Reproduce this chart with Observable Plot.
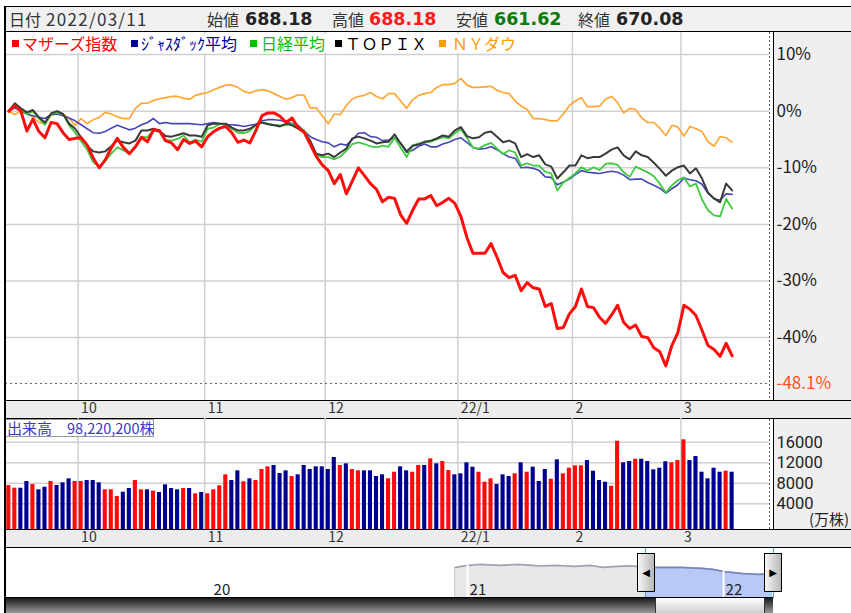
<!DOCTYPE html>
<html lang="ja"><head><meta charset="utf-8">
<script src="https://cdn.jsdelivr.net/npm/d3@7"></script>
<script src="https://cdn.jsdelivr.net/npm/@observablehq/plot@0.6"></script>
<style>
html,body{margin:0;padding:0;background:#fff;}
#c{position:relative;width:851px;height:613px;overflow:hidden;font-family:"Noto Sans CJK JP","Noto Sans",sans-serif;color:#222;}
#c div{position:absolute;box-sizing:border-box;}
#c svg{position:absolute;left:0;}
</style></head><body><div id="c"></div>
<script>
// ---------- data ----------
const headerDate = "2022/03/11";
const ohlcLabels = ["始値", "高値", "安値", "終値"];
const ohlcValues = ["688.18", "688.18", "661.62", "670.08"];
const legendNames = ["マザーズ指数", "ｼﾞｬｽﾀﾞｯｸ平均", "日経平均", "ＴＯＰＩＸ", "ＮＹダウ"];
const volumeTitle = "出来高";
const volumeTotal = "98,220,200株";
const volumeUnit = "(万株)";

const monthLabels = ["10", "11", "12", "22/1", "2", "3"];
const monthStart = [12, 33, 53, 75, 94, 112]; // trading-day index of first day in month
const pctTicks = [10, 0, -10, -20, -30, -40];
const lowPct = -48.1;
const volTicks = [16000, 12000, 8000, 4000];

const mothers = [0, 1.0, 0, -3.5, -1.4, -3.6, -4.7, -2.0, -2.2, -3.8,
  -5.0, -4.8, -4.7, -6.0, -8.3, -10.0, -8.6, -6.5, -4.8, -6.4,
  -7.5, -6.3, -4.6, -5.4, -3.3, -3.4, -5.2, -5.6, -6.8, -5.0,
  -5.7, -5.3, -6.3, -4.5, -3.6, -3.0, -2.7, -3.8, -5.5, -5.1,
  -5.6, -3.4, -0.8, -0.3, -0.3, -0.9, -2.0, -1.2, -2.9, -3.7,
  -5.8, -8.0, -9.5, -10.5, -12.8, -11.2, -14.6, -12.3, -10.0, -11.4,
  -12.8, -13.8, -16.0, -15.2, -15.4, -18.3, -19.8, -17.5, -15.5, -15.5,
  -14.9, -16.7, -16.1, -15.4, -16.3, -18.6, -22.3, -25.1, -25.1, -25.1,
  -23.4, -25.8, -28.5, -29.4, -29.0, -31.7, -30.3, -31.2, -31.4, -34.5,
  -34.0, -38.4, -38.2, -35.8, -34.5, -31.4, -34.5, -34.7, -36.4, -37.5,
  -36.0, -34.3, -37.3, -38.4, -37.8, -39.8, -40.0, -41.8, -42.5, -45.0,
  -41.4, -39.1, -34.3, -35.0, -36.1, -38.7, -41.4, -42.1, -43.3, -41.0,
  -43.2];
const jasdaq = [0, 0.6, 0, -0.5, -0.8, -1.1, -1.3, -0.6, -0.5, -0.8,
  -1.2, -1.7, -2.4, -3.1, -3.8, -3.9, -3.6, -3.0, -2.5, -2.9,
  -3.3, -3.0, -2.4, -2.0, -1.3, -2.2, -2.0, -2.2, -2.2, -2.2,
  -2.2, -2.3, -2.4, -2.2, -2.0, -2.2, -2.4, -2.4, -2.5, -2.7,
  -2.5, -2.3, -1.7, -1.5, -1.5, -1.6, -1.9, -2.2, -2.5, -3.5,
  -4.5, -5.0, -5.4, -5.6, -6.3, -5.8, -6.0, -5.0, -3.9, -3.8,
  -4.5, -4.6, -5.2, -5.1, -4.7, -5.6, -7.3, -6.9, -6.2, -5.8,
  -6.3, -6.3, -5.8, -5.5, -5.0, -4.7, -5.5, -6.4, -6.7, -6.6,
  -6.3, -6.8, -7.5, -8.1, -8.3, -10.0, -9.9, -10.1, -10.5, -11.6,
  -11.7, -13.0, -12.5, -12.0, -11.2, -10.5, -10.8, -10.9, -11.0, -10.8,
  -10.6, -10.8, -11.3, -12.1, -12.0, -12.0, -12.6, -13.1, -13.6, -14.5,
  -13.7, -13.0, -11.8, -12.1, -12.3, -12.9, -14.5, -15.5, -15.7, -14.6,
  -14.7];
const nikkei = [0, 1.2, 0.3, -0.5, 0, -1.3, -2.4, -0.5, -0.2, -0.5,
  -2.5, -3.8, -5.3, -6.8, -9.0, -9.8, -8.8, -7.5, -6.4, -6.9,
  -7.5, -6.4, -4.6, -4.6, -3.4, -3.7, -5.1, -5.2, -4.9, -4.3,
  -5.5, -5.0, -5.4, -3.1, -2.9, -2.2, -2.5, -3.1, -3.8, -3.9,
  -3.5, -2.4, -2.0, -2.2, -2.4, -2.5, -2.5, -2.2, -2.9, -3.4,
  -5.5, -7.8, -8.1, -8.1, -8.5, -8.0, -7.0, -5.8, -5.5, -5.8,
  -6.2, -6.4, -6.1, -6.3, -4.7, -6.4, -8.1, -6.1, -5.7, -5.5,
  -5.4, -5.0, -4.6, -4.8, -3.9, -3.2, -4.7, -6.4, -6.6, -6.0,
  -5.6, -6.6, -7.6, -6.9, -7.3, -9.6, -9.2, -9.6, -9.6, -10.7,
  -11.0, -14.0, -12.6, -11.8, -11.0, -9.9, -10.5, -9.9, -10.4, -9.3,
  -9.2, -9.5, -10.8, -11.6, -9.8, -10.3, -10.8, -11.5, -12.8, -14.4,
  -13.1, -12.2, -11.7, -13.3, -12.8, -15.6, -17.5, -18.4, -18.6, -15.5,
  -17.2];
const topix = [0, 1.4, 0.5, -0.2, 0.2, -1.1, -2.0, -0.4, 0, -0.5,
  -2.2, -3.1, -4.6, -6.1, -7.1, -7.3, -7.1, -6.2, -5.2, -5.5,
  -5.7, -5.2, -3.4, -3.4, -3.1, -3.5, -4.4, -4.5, -4.2, -3.9,
  -4.3, -4.3, -4.5, -2.5, -2.2, -2.2, -2.2, -2.9, -3.4, -3.4,
  -3.1, -2.4, -2.0, -2.3, -2.5, -2.7, -2.2, -2.5, -3.1, -3.8,
  -5.2, -7.5, -7.8, -7.5, -8.1, -7.3, -6.6, -4.8, -4.5, -4.8,
  -5.2, -5.7, -5.5, -5.4, -4.1, -5.7, -7.1, -6.1, -5.9, -5.4,
  -5.2, -4.8, -4.3, -4.5, -3.4, -2.8, -4.4, -4.8, -4.6, -3.8,
  -3.6, -4.5, -5.5, -5.2, -5.7, -8.1, -7.6, -8.1, -7.8, -9.4,
  -9.8, -11.9, -10.8, -9.6, -9.6, -7.8, -8.3, -8.1, -8.1, -7.5,
  -6.8, -6.4, -7.8, -8.5, -7.1, -7.8, -8.1, -9.1, -10.2, -11.4,
  -10.5, -9.9, -9.6, -11.0, -10.1, -11.9, -14.4, -15.4, -16.1, -12.8,
  -14.0];
const nydow = [0, -0.6, 0, -0.5, -1.0, -2.0, -2.2, -0.8, -0.2, -0.5,
  -1.3, -2.5, -1.3, -2.2, -1.5, -1.1, -0.2, -0.5, -1.0, -1.3,
  -1.3, 0.5, 1.4, 1.4, 1.9, 2.2, 2.4, 2.6, 2.6, 2.3,
  2.1, 2.8, 3.1, 3.3, 3.8, 4.2, 4.6, 4.6, 4.2, 3.5,
  3.2, 3.6, 3.8, 3.6, 3.1, 2.6, 2.1, 2.4, 2.9, 2.8,
  0.6, 0.6, -0.8, -2.2, -0.5, -0.6, 1.0, 2.2, 2.6, 2.8,
  3.3, 2.6, 2.2, 3.1, 3.1, 1.8, 0.5, 2.0, 2.8, 3.1,
  3.3, 4.2, 4.7, 4.7, 4.9, 5.8, 4.6, 4.2, 4.2, 4.3,
  4.4, 3.7, 3.3, 3.1, 1.8, 0.9, 0.3, -1.3, -1.3, -1.5,
  -1.7, -1.7, -0.5, 1.0, 1.8, 2.4, 0.8, 0.8, 0.9, 2.1,
  2.6, 1.5, -0.3, 0.5, 0.3, -1.2, -2.0, -2.0, -3.0, -4.3,
  -2.5, -2.8, -4.4, -2.7, -3.1, -3.6, -5.4, -6.2, -4.5, -4.7,
  -5.5];

// volume (万株) and up(r)/down(b) colour code
const volume = [7570, 7040, 7040, 8350, 7760, 6730, 7240, 8350, 7570, 8090,
  8870, 8350, 8350, 8540, 8540, 8090, 6730, 6730, 5420, 6260,
  6980, 8540, 6730, 6730, 6460, 6200, 7700, 6980, 6730, 6980,
  6980, 5950, 6200, 5950, 6730, 7510, 9650, 8540, 10430, 8300,
  8870, 8540, 10690, 11210, 11470, 9910, 10430, 9320, 9650, 11470,
  10690, 11210, 11210, 10690, 13030, 11470, 11800, 10690, 10430, 10430,
  10430, 9320, 9650, 8870, 10160, 11210, 10430, 10160, 11470,
  11470, 12770, 11800, 12250, 10490, 9650, 9850, 11990, 11140, 10160,
  8210, 8870, 7760, 9650, 9320, 9850, 11990, 10160, 11140, 8350,
  10690, 8790, 12580, 9850, 10940, 11410, 11410, 12440, 10360, 8540,
  8210, 7430, 16210, 11990, 12250, 12700, 12700, 12250, 10630, 10940,
  12190, 11990, 12440, 16480, 12440, 13220, 10160, 8870, 10940, 10160,
  10360, 10160];
const volDir = ("rrbbrbbrbb" + "brrbbbrrrb" + "brrbrbbbbr" + "brbrrrrbbr" + "brrrbbbrbb" +
  "bbbbbrbrrb" + "bbbrrbbrr" + "brbrrbbbbr" + "rrbbbrbrbb" + "brbrrrrbbb" +
  "brrbbrbbbb" + "brrrbbbbbb" + "rb").split("");

// navigator (long-range overview)
const navYears = [2020, 2021, 2022];
const navYearLabels = ["20", "21", "22"];
const navX = [2020.953, 2021.0, 2021.05, 2021.13, 2021.2, 2021.28, 2021.35, 2021.42, 2021.48, 2021.53,
  2021.58, 2021.64, 2021.695, 2021.76, 2021.84, 2021.92, 2021.96, 2022.0, 2022.07, 2022.14, 2022.19];
const navV = [31, 33, 34, 33, 34, 32.5, 33, 32, 33, 31, 32, 32.5, 31, 31, 31, 30, 29, 27, 25, 24, 25];
const navSel = [2021.695, 2022.195];

// ---------- layout helpers ----------
const c = document.getElementById("c");
function box(style, html) {
  const d = document.createElement("div");
  d.style.cssText = style;
  if (html !== undefined) d.innerHTML = html;
  c.appendChild(d);
  return d;
}
const N = mothers.length;
const idx = d3.range(N);
const monthGrid = monthStart.map(d => d - 0.5);
const xDomain = [-0.548, 126.2];
const FONT = "'Noto Sans CJK JP', 'Noto Sans', sans-serif";

// ---------- backgrounds ----------
box("left:4px;top:6px;width:847px;height:26px;background:#f0f0f0;border-top:1px solid #000;border-bottom:1px solid #000;");
box("left:774px;top:32px;width:77px;height:368px;background:#efefef;");
box("left:774px;top:419px;width:77px;height:110px;background:#efefef;");
box("left:4px;top:400px;width:847px;height:19px;background:#ececec;border-top:1px solid #000;border-bottom:1px solid #000;");
box("left:4px;top:529px;width:847px;height:19px;background:#ececec;border-top:1px solid #000;border-bottom:1px solid #000;");

// ---------- header text ----------
box(`left:9px;top:7px;height:24px;line-height:24px;font-size:16px;color:#333;`, "日付");
box(`left:46px;top:7px;height:24px;line-height:24px;font-size:17px;letter-spacing:1.3px;color:#333;`, headerDate);
const ohlcPos = [[207, 245], [332, 369], [456, 494], [578, 616]];
const ohlcColors = ["#222", "#ff1a1a", "#0b7a0b", "#222"];
ohlcLabels.forEach((l, k) => {
  box(`left:${ohlcPos[k][0]}px;top:7px;height:24px;line-height:24px;font-size:16px;color:#333;`, l);
  box(`left:${ohlcPos[k][1]}px;top:7px;height:24px;line-height:24px;font-family:'DejaVu Sans',sans-serif;font-weight:bold;font-size:17.5px;color:${ohlcColors[k]};`, ohlcValues[k]);
});

// ---------- main chart ----------
const lineSpec = [
  {v: nydow, color: "#ffa733", w: 1.7},
  {v: jasdaq, color: "#4646b8", w: 1.6},
  {v: nikkei, color: "#3ccb3c", w: 1.8},
  {v: topix, color: "#3a3a3a", w: 2},
  {v: mothers, color: "#ff0d0d", w: 3}
];
const mainPlot = Plot.plot({
  width: 851, height: 386,
  marginLeft: 5, marginRight: 82, marginTop: 0, marginBottom: 18,
  style: {background: "transparent", fontFamily: FONT, fontSize: "14px", color: "#222"},
  x: {domain: xDomain, axis: null},
  y: {domain: [-51.11, 13.9], axis: null},
  marks: [
    Plot.gridY(pctTicks, {stroke: "#d0d0d0", strokeOpacity: 1, strokeWidth: 1.5}),
    Plot.gridX(monthGrid, {stroke: "#d0d0d0", strokeOpacity: 1, strokeWidth: 1.5}),
    Plot.ruleY([lowPct], {stroke: "#666", strokeDasharray: "2,3"}),
    ...lineSpec.map(s => Plot.line(idx, {x: i => i, y: i => s.v[i], stroke: s.color, strokeWidth: s.w, strokeLinejoin: "round"})),
    Plot.axisY(pctTicks, {anchor: "right", tickSize: 0, tickPadding: 7, tickFormat: d => `${d}%`, fontSize: 17, color: "#222"}),
    Plot.axisY([lowPct], {anchor: "right", tickSize: 0, tickPadding: 7, tickFormat: d => `${d}%`, fontSize: 17, color: "#ff5020"}),
    Plot.axisX(monthGrid, {anchor: "bottom", tickSize: 0, tickPadding: 3, textAnchor: "start", dx: 3, fontSize: 14, color: "#333",
      tickFormat: d => monthLabels[monthGrid.indexOf(d)]})
  ]
});
mainPlot.style.top = "32px";
c.appendChild(mainPlot);

// ---------- volume chart ----------
const volFloor = -1015;
const volPlot = Plot.plot({
  width: 851, height: 129,
  marginLeft: 5, marginRight: 82, marginTop: 0, marginBottom: 18,
  style: {background: "transparent", fontFamily: FONT, fontSize: "14px", color: "#222"},
  x: {domain: xDomain, axis: null},
  y: {domain: [volFloor, 20640], axis: null},
  marks: [
    Plot.gridY(volTicks, {stroke: "#d0d0d0", strokeOpacity: 1, strokeWidth: 1.5}),
    Plot.gridX(monthGrid, {stroke: "#d0d0d0", strokeOpacity: 1, strokeWidth: 1.5}),
    Plot.rect(idx.filter(i => volDir[i] === "r"), {x1: i => i - 0.34, x2: i => i + 0.34, y1: () => volFloor, y2: i => volume[i], fill: "#ff0a0a"}),
    Plot.rect(idx.filter(i => volDir[i] === "b"), {x1: i => i - 0.34, x2: i => i + 0.34, y1: () => volFloor, y2: i => volume[i], fill: "#00008f"}),
    Plot.axisY(volTicks, {anchor: "right", tickSize: 0, tickPadding: 7, tickFormat: d => String(d), fontSize: 16.5,
      fontFamily: "Roboto, 'Liberation Sans', sans-serif", color: "#222"}),
    Plot.axisX(monthGrid, {anchor: "bottom", tickSize: 0, tickPadding: 3, textAnchor: "start", dx: 3, fontSize: 14, color: "#333",
      tickFormat: d => monthLabels[monthGrid.indexOf(d)]})
  ]
});
volPlot.style.top = "418px";
c.appendChild(volPlot);

// ---------- navigator ----------
const navIdx = d3.range(navX.length);
const selIdx = navIdx.filter(i => navX[i] >= navSel[0]);
const navPlot = Plot.plot({
  width: 851, height: 50,
  marginLeft: 5, marginRight: 78, marginTop: 0, marginBottom: 0,
  style: {background: "transparent", fontFamily: FONT, fontSize: "15px", color: "#222"},
  x: {domain: [2019.195, 2022.195], axis: null},
  y: {domain: [0, 50], axis: null},
  marks: [
    Plot.areaY(navIdx, {x: i => navX[i], y: i => navV[i], fill: "#e8e8e8", stroke: "#c8c8c8", strokeWidth: 1}),
    Plot.areaY(selIdx, {x: i => navX[i], y: i => navV[i], fill: "#b9c8f5"}),
    Plot.line(navIdx, {x: i => navX[i], y: i => navV[i], stroke: "#a0a0b4", strokeWidth: 1.5}),
    Plot.line(selIdx, {x: i => navX[i], y: i => navV[i], stroke: "#7785c4", strokeWidth: 1.5}),
    Plot.ruleX(navYears.slice(1), {stroke: "#fff", strokeWidth: 2}),
    Plot.ruleX(navSel, {stroke: "#3aa8d8", strokeWidth: 1}),
    Plot.text(navYears, {x: d => d, frameAnchor: "bottom", lineAnchor: "bottom", dy: -4, dx: 2, textAnchor: "start",
      text: (d, i) => navYearLabels[i], fontSize: 15, fill: "#222"})
  ]
});
navPlot.style.top = "548px";
c.appendChild(navPlot);

// ---------- overlays ----------
// right frame lines
box("left:773px;top:32px;width:1px;height:368px;background:#000;");
box("left:773px;top:419px;width:1px;height:110px;background:#000;");
box("left:769px;top:32px;width:1px;height:368px;background:repeating-linear-gradient(to bottom,#555 0 2px,transparent 2px 4px);");
box("left:769px;top:419px;width:1px;height:110px;background:repeating-linear-gradient(to bottom,#555 0 2px,transparent 2px 4px);");

// legend
const legendColors = ["#ff0000", "#000099", "#00c000", "#000000", "#ff9900"];
const legendPos = [[12, 22, 100], [131, 141, 100], [250, 261, 67], [335, 345, 86], [439, 452, 68]];
legendNames.forEach((n, k) => {
  const [sq, tx, w] = legendPos[k];
  box(`left:${sq - 2}px;top:34px;width:${tx - sq + w + 4}px;height:19px;background:#fff;`);
  box(`left:${sq}px;top:40px;width:7px;height:7px;background:${legendColors[k]};`);
  box(`left:${tx}px;top:33px;height:20px;line-height:20px;font-size:16px;color:${legendColors[k]};white-space:nowrap;${k === 3 ? "letter-spacing:0.5px;" : ""}`, n);
});

// volume label box
box("left:5px;top:419px;width:149px;height:18px;background:#fff;border:1px solid #999;");
box("left:7px;top:419px;height:18px;line-height:18px;font-size:15px;color:#3838c8;", volumeTitle);
box("left:67px;top:419px;height:18px;line-height:18px;font-size:14.5px;color:#3838c8;white-space:nowrap;", volumeTotal);
box("left:809px;top:510px;height:18px;line-height:18px;font-size:15px;color:#222;white-space:nowrap;", volumeUnit);

// navigator handles and scrollbar
box("left:5px;top:597px;width:768px;height:1px;background:#000;");
box("left:5px;top:598px;width:768px;height:15px;background:linear-gradient(#1a1a1a,#9a9a9a);");
box("left:655px;top:598px;width:110px;height:15px;background:linear-gradient(#ffffff,#cfcfcf);border-left:1px solid #333;border-right:1px solid #333;");
box("left:637px;top:553px;width:18px;height:39px;background:linear-gradient(to right,#f6f6f6,#b8b8b8);border:1px solid #000;font-family:'DejaVu Sans';font-size:10px;line-height:37px;text-align:center;color:#000;", "◀");
box("left:764px;top:553px;width:18px;height:39px;background:linear-gradient(to right,#f6f6f6,#b8b8b8);border:1px solid #000;font-family:'DejaVu Sans';font-size:10px;line-height:37px;text-align:center;color:#000;", "▶");

// left frame line
box("left:4px;top:6px;width:2px;height:607px;background:#000;");
</script>
</body></html>
